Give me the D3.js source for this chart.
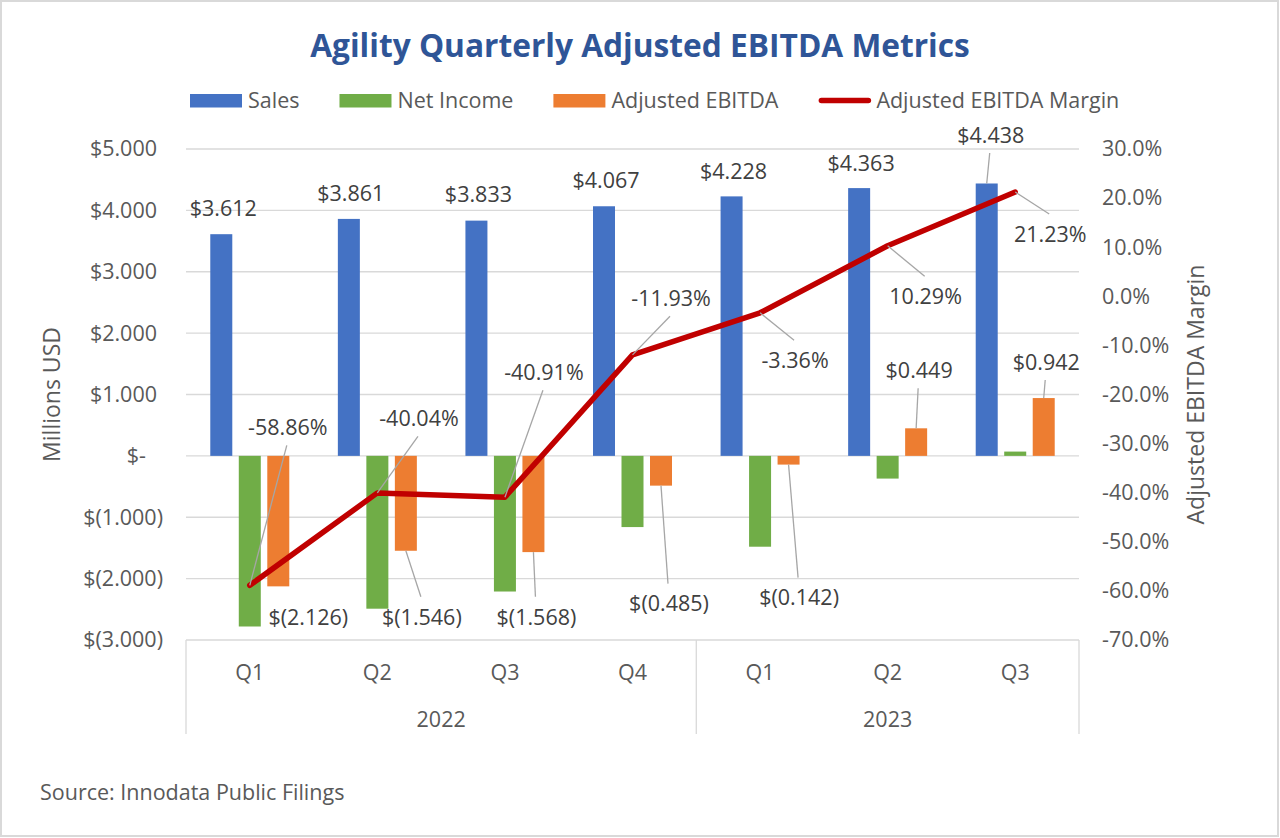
<!DOCTYPE html>
<html><head><meta charset="utf-8">
<script src="https://cdn.jsdelivr.net/npm/d3@7"></script>
<style>body{margin:0;background:#fff}svg{display:block;font-family:"Open Sans",sans-serif}</style>
</head><body><svg id="c" width="1280" height="838"></svg>
<script>
// ---- data ----
const quarters = ["Q1","Q2","Q3","Q4","Q1","Q2","Q3"];
const years = ["2022","2022","2022","2022","2023","2023","2023"];
const sales = [3.612,3.861,3.833,4.067,4.228,4.363,4.438];
const netIncome = [-2.78,-2.49,-2.21,-1.16,-1.48,-0.37,0.07];
const adjEbitda = [-2.126,-1.546,-1.568,-0.485,-0.142,0.449,0.942];
const marginPct = [-58.86,-40.04,-40.91,-11.93,-3.36,10.29,21.23];
const leftTicks = [5,4,3,2,1,0,-1,-2,-3];
const rightTicks = [30,20,10,0,-10,-20,-30,-40,-50,-60,-70];
const seriesNames = ["Sales","Net Income","Adjusted EBITDA","Adjusted EBITDA Margin"];
const titleText = "Agility Quarterly Adjusted EBITDA Metrics";
const sourceText = "Source: Innodata Public Filings";

// ---- label placement (style config) ----
const salesLblOff = [[2,-26,0],[2,-26,0],[2,-26,0],[2,-26,0],[2,-25.5,0],[2,-25,0],[4,-48.5,1]];
const ebitdaLblOff = [[30,30.5,0],[16,66,1],[3,64.7,1],[8,118,1],[10.5,133,1],[3,-58,1],[2.5,-36,1]];
const marginLblOff = [[38,-158,1],[41.6,-74.6,1],[39,-125,1],[38.5,-56.6,1],[35,47.5,1],[38,50.5,1],[35,42,1]];

const colors = ["#4472C4","#70AD47","#ED7D31","#C00000"];
const txt = "#595959", lbl = "#404040", grid = "#D9D9D9";
const FS = 21.5;

const svg = d3.select("#c");
svg.append("rect").attr("x",1).attr("y",1).attr("width",1277).attr("height",835)
  .attr("fill","#fff").attr("stroke",grid).attr("stroke-width",2);

const L = 186, R = 1079, T = 149, B = 640;
const x = d3.scaleBand().domain(d3.range(quarters.length)).range([L,R]).padding(0);
const yL = d3.scaleLinear().domain([-3,5]).range([B,T]);
const yR = d3.scaleLinear().domain([-70,30]).range([B,T]);
const groupW = 79;
const xs = d3.scaleBand().domain([0,1,2]).range([-groupW/2,groupW/2]).paddingInner(0.228).paddingOuter(0);
const bw = xs.bandwidth();
const cx = i => x(i) + x.bandwidth()/2;

// gridlines
svg.append("g").selectAll("line").data(leftTicks).join("line")
  .attr("x1",L).attr("x2",R).attr("y1",d=>yL(d)).attr("y2",d=>yL(d))
  .attr("stroke",grid).attr("stroke-width",1.3);

// category separators
const sepIdx = [0];
years.forEach((y,i)=>{ if(i>0 && y!==years[i-1]) sepIdx.push(i); });
sepIdx.push(years.length);
svg.append("g").selectAll("line").data(sepIdx).join("line")
  .attr("x1",i=> i<years.length ? x(i) : R).attr("x2",i=> i<years.length ? x(i) : R)
  .attr("y1",B).attr("y2",734).attr("stroke",grid).attr("stroke-width",1.3);

// left axis
const fmtUSD = v => v===0 ? "$-" : (v<0 ? "$(" + (-v).toFixed(3) + ")" : "$" + v.toFixed(3));
const gL = svg.append("g").attr("transform",`translate(${L},0)`)
  .call(d3.axisLeft(yL).tickValues(leftTicks).tickSize(0).tickPadding(29).tickFormat(fmtUSD));
gL.select(".domain").remove();
gL.selectAll("text").attr("font-family","Open Sans").attr("font-size",FS).attr("fill",txt)
  .attr("x",d=> d===0 ? -40 : (d<0 ? -23 : -29));

// right axis
const gR = svg.append("g").attr("transform",`translate(${R},0)`)
  .call(d3.axisRight(yR).tickValues(rightTicks).tickSize(0).tickPadding(23).tickFormat(v=>v.toFixed(1)+"%"));
gR.select(".domain").remove();
gR.selectAll("text").attr("font-family","Open Sans").attr("font-size",FS).attr("fill",txt);

// axis titles
svg.append("text").attr("transform",`translate(52,${(T+B)/2}) rotate(-90)`)
  .attr("text-anchor","middle").attr("dy","0.36em").attr("font-size",23).attr("fill",txt).text("Millions USD");
svg.append("text").attr("transform",`translate(1196,${(T+B)/2}) rotate(-90)`)
  .attr("text-anchor","middle").attr("dy","0.36em").attr("font-size",23).attr("fill",txt).text("Adjusted EBITDA Margin");

// category labels
svg.append("g").selectAll("text").data(quarters).join("text")
  .attr("x",(d,i)=>cx(i)).attr("y",672).attr("dy","0.36em").attr("text-anchor","middle")
  .attr("font-size",FS).attr("fill",txt).text(d=>d);
const yearGroups = d3.groups(years.map((y,i)=>({y,i})), d=>d.y);
svg.append("g").selectAll("text").data(yearGroups).join("text")
  .attr("x",g=> (x(g[1][0].i) + x(g[1][g[1].length-1].i) + x.bandwidth())/2)
  .attr("y",719).attr("dy","0.36em").attr("text-anchor","middle")
  .attr("font-size",FS).attr("fill",txt).text(g=>g[0]);

// bars
const barSeries = [sales, netIncome, adjEbitda];
barSeries.forEach((arr,s)=>{
  svg.append("g").selectAll("rect").data(arr).join("rect")
    .attr("x",(d,i)=>cx(i)+xs(s)).attr("width",bw)
    .attr("y",d=>yL(Math.max(0,d))).attr("height",d=>Math.abs(yL(d)-yL(0)))
    .attr("fill",colors[s]);
});

// margin line
svg.append("path").datum(marginPct)
  .attr("d",d3.line().x((d,i)=>cx(i)).y(d=>yR(d)))
  .attr("fill","none").attr("stroke",colors[3]).attr("stroke-width",5.5)
  .attr("stroke-linejoin","round").attr("stroke-linecap","round");

// data labels with leader lines
function labels(arr, anchorX, anchorY, offs, fmt){
  const g = svg.append("g");
  arr.forEach((v,i)=>{
    const ax = anchorX(i), ay = anchorY(v);
    const [dx,dy,lead] = offs[i];
    const lx = ax+dx, ly = ay+dy;
    if(lead){
      g.append("line").attr("x1",ax).attr("y1",ay).attr("x2",lx-1).attr("y2", dy<0 ? ly+18 : ly-20)
        .attr("stroke","#A6A6A6").attr("stroke-width",1.3);
    }
    g.append("text").attr("x",lx).attr("y",ly).attr("dy","0.36em").attr("text-anchor","middle")
      .attr("font-size",FS).attr("fill",lbl).text(fmt(v));
  });
}
labels(sales, i=>cx(i)+xs(0)+bw/2, v=>yL(v), salesLblOff, fmtUSD);
labels(adjEbitda, i=>cx(i)+xs(2)+bw/2, v=>yL(v), ebitdaLblOff, fmtUSD);
labels(marginPct, i=>cx(i), v=>yR(v), marginLblOff, v=>v.toFixed(2)+"%");

// title
const title = svg.append("text").attr("x",640).attr("y",57).attr("text-anchor","middle")
  .attr("font-weight","bold").attr("font-size",34).attr("fill","#2F5597").text(titleText);
const tl = title.node().getComputedTextLength();
title.attr("font-size", 34*660/tl);

// legend
const lg = svg.append("g");
let lx = 190;
seriesNames.forEach((n,s)=>{
  if(s<3){
    lg.append("rect").attr("x",lx).attr("y",94).attr("width",52).attr("height",13.5).attr("fill",colors[s]);
  } else {
    lg.append("line").attr("x1",lx+3).attr("x2",lx+50).attr("y1",100.5).attr("y2",100.5)
      .attr("stroke",colors[s]).attr("stroke-width",5.5).attr("stroke-linecap","round");
  }
  const t = lg.append("text").attr("x",lx+58).attr("y",100.5).attr("dy","0.36em")
    .attr("font-size",FS).attr("fill",txt).text(n);
  lx += 58 + t.node().getComputedTextLength() + 40;
});

// source
svg.append("text").attr("x",40).attr("y",792).attr("dy","0.36em")
  .attr("font-size",FS).attr("fill",txt).text(sourceText);
</script></body></html>
